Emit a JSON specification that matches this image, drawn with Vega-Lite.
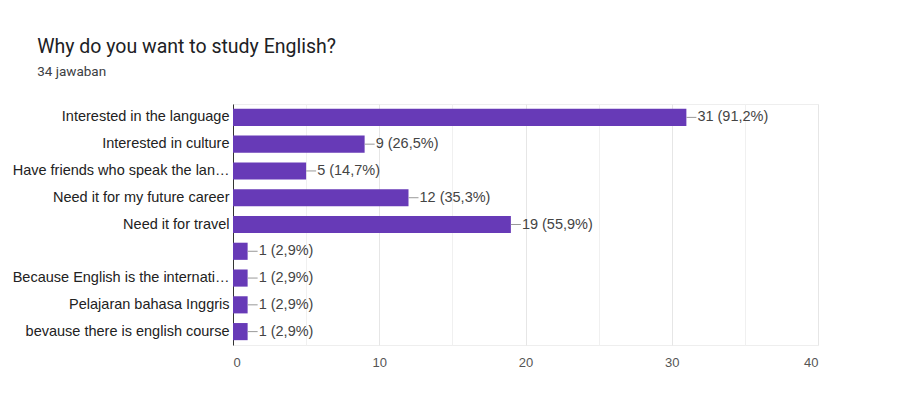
{
  "$schema": "https://vega.github.io/schema/vega-lite/v6.json",
  "width": 585,
  "height": 241,
  "padding": {"left": 12, "top": 37, "right": 10, "bottom": 10},
  "background": "white",
  "title": {
    "text": "Why do you want to study English?",
    "subtitle": "34 jawaban",
    "anchor": "start",
    "frame": "bounds",
    "dx": 25,
    "font": "Roboto",
    "fontSize": 19.5,
    "fontWeight": "normal",
    "color": "#202124",
    "subtitleFont": "Roboto",
    "subtitleFontSize": 13.5,
    "subtitleColor": "#3c4043",
    "subtitlePadding": 7,
    "offset": 25
  },
  "data": {
    "values": [
      {"order": 1, "reason": "Interested in the language", "count": 31, "label": "31 (91,2%)"},
      {"order": 2, "reason": "Interested in culture", "count": 9, "label": "9 (26,5%)"},
      {"order": 3, "reason": "Have friends who speak the lan…", "count": 5, "label": "5 (14,7%)"},
      {"order": 4, "reason": "Need it for my future career", "count": 12, "label": "12 (35,3%)"},
      {"order": 5, "reason": "Need it for travel", "count": 19, "label": "19 (55,9%)"},
      {"order": 6, "reason": " ", "count": 1, "label": "1 (2,9%)"},
      {"order": 7, "reason": "Because English is the internati…", "count": 1, "label": "1 (2,9%)"},
      {"order": 8, "reason": "Pelajaran bahasa Inggris", "count": 1, "label": "1 (2,9%)"},
      {"order": 9, "reason": "bevause there is english course", "count": 1, "label": "1 (2,9%)"}
    ]
  },
  "encoding": {
    "y": {
      "field": "reason",
      "type": "nominal",
      "sort": {"field": "order", "order": "ascending"},
      "scale": {"paddingInner": 0.36, "paddingOuter": 0.18},
      "axis": {
        "title": null,
        "domain": true,
        "domainColor": "#333333",
        "domainWidth": 1,
        "ticks": false,
        "labelPadding": 4,
        "labelFont": "Liberation Sans",
        "labelFontSize": 14.5,
        "labelColor": "#222222",
        "labelLimit": 280,
        "grid": false
      }
    }
  },
  "layer": [
    {
      "mark": {"type": "bar", "color": "#673ab7"},
      "encoding": {
        "x": {
          "field": "count",
          "type": "quantitative",
          "scale": {"domain": [0, 40], "nice": false},
          "axis": {
            "title": null,
            "values": [0, 5, 10, 15, 20, 25, 30, 35, 40],
            "labelExpr": "datum.value % 10 == 0 ? datum.label : ''",
            "domain": false,
            "ticks": false,
            "grid": true,
            "gridColor": {"condition": {"test": "datum.value % 10 == 0", "value": "#e6e6e6"}, "value": "#f0f0f0"},
            "labelPadding": 11,
            "labelFont": "Liberation Sans",
            "labelFontSize": 13,
            "labelColor": "#555555"
          }
        }
      }
    },
    {
      "mark": {"type": "rule", "color": "#999999", "x2Offset": 10},
      "encoding": {
        "x": {"field": "count", "type": "quantitative"},
        "x2": {"field": "count"}
      }
    },
    {
      "mark": {"type": "text", "align": "left", "baseline": "middle", "dx": 11, "font": "Liberation Sans", "fontSize": 14.5, "color": "#444444"},
      "encoding": {
        "x": {"field": "count", "type": "quantitative"},
        "text": {"field": "label"}
      }
    }
  ],
  "config": {
    "view": {"stroke": "#eeeeee"}
  }
}
